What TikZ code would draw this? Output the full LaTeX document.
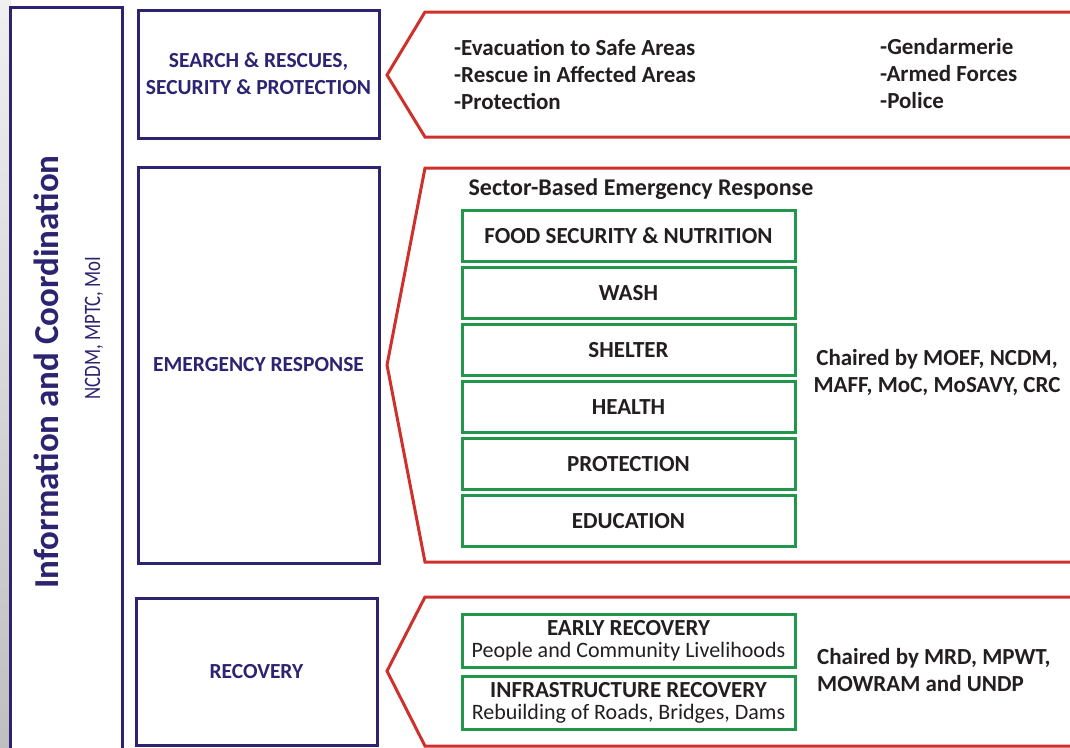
\documentclass[tikz,border=0pt]{standalone}
\usepackage{fontspec}
\setmainfont{Carlito}
\newfontfamily\narrowfont[FakeStretch=0.8]{Carlito}
\usetikzlibrary{positioning}
\definecolor{navy}{RGB}{44,36,112}
\definecolor{chevred}{RGB}{206,48,44}
\definecolor{sectgreen}{RGB}{34,150,74}
\definecolor{ink}{RGB}{35,31,32}
\newcommand{\sublabel}{\fontsize{22}{22}\selectfont\mdseries}

\begin{document}
\begin{tikzpicture}[x=1pt,y=-1pt,
    phase/.style={draw=navy,line width=3pt,minimum width=241pt,text=navy,
      font=\fontsize{21.5}{27}\selectfont\bfseries,align=center},
    sector/.style={draw=sectgreen,line width=3pt,minimum width=333pt,minimum height=51pt,
      text=ink,font=\fontsize{23}{27}\selectfont\bfseries,align=center,inner sep=0pt},
    recbox/.style={sector,minimum height=53pt,font=\fontsize{23}{22}\selectfont\bfseries},
    chevron/.style={draw=chevred,line width=3pt,line join=miter},
    info/.style={text=ink,font=\fontsize{23}{27}\selectfont\bfseries,align=left,inner sep=0pt}]
    \clip (0,0) rectangle (1070,747);
    \fill[white] (0,0) rectangle (1070,747);
    \shade[top color=gray!12,bottom color=gray!50] (0,0) rectangle (11,747);

    \node[draw=navy,line width=3pt,minimum width=112pt,minimum height=770pt,inner sep=0pt] (coord) at (66,392) {};
    \node[rotate=90,text=navy,font=\fontsize{35}{40}\selectfont\bfseries] (cotitle) at (46,372) {Information and Coordination};
    \node[rotate=90,text=navy,font=\narrowfont\fontsize{23.5}{26}\selectfont] (coorgs) at (94,328) {NCDM, MPTC, MoI};

    \node[phase,minimum height=128pt] (search) at (258.5,74) {SEARCH \& RESCUES,\\SECURITY \& PROTECTION};
    \node[phase,minimum height=396pt] (emerg) at (258.5,365) {EMERGENCY RESPONSE};
    \node[phase,minimum height=147pt] (recov) at (256.5,671.5) {RECOVERY};

    \draw[chevron] (1075,12) -- (425,12) -- (387,75) -- (425,137) -- (1075,137);
    \draw[chevron] (1075,168) -- (425,168) -- (387,365) -- (425,562) -- (1075,562);
    \draw[chevron] (1075,597) -- (425,597) -- (387,671) -- (425,746) -- (1075,746);

    \node[info,anchor=west] (tasks) at (454,74) {-Evacuation to Safe Areas\\-Rescue in Affected Areas\\-Protection};
    \node[info,anchor=west] (forces) at (880,74) {-Gendarmerie\\-Armed Forces\\-Police};

    \node[info,font=\fontsize{24}{28}\selectfont\bfseries] (sectors) at (641,189) {Sector-Based Emergency Response};
    \node[sector] (food) at (628.5,236) {FOOD SECURITY \& NUTRITION};
    \node[sector] (wash) [below=3pt of food] {WASH};
    \node[sector] (shelter) [below=3pt of wash] {SHELTER};
    \node[sector] (health) [below=3pt of shelter] {HEALTH};
    \node[sector] (protect) [below=3pt of health] {PROTECTION};
    \node[sector] (educ) [below=3pt of protect] {EDUCATION};
    \node[info,align=center] (chair1) at (937,372) {Chaired by MOEF, NCDM,\\MAFF, MoC, MoSAVY, CRC};

    \node[recbox] (early) at (628.5,641) {EARLY RECOVERY\\{\sublabel People and Community Livelihoods}};
    \node[recbox] (infra) [below=5.5pt of early] {INFRASTRUCTURE RECOVERY\\{\sublabel Rebuilding of Roads, Bridges, Dams}};
    \node[info,anchor=west] (chair2) at (817,670) {Chaired by MRD, MPWT,\\MOWRAM and UNDP};
\end{tikzpicture}
\end{document}
